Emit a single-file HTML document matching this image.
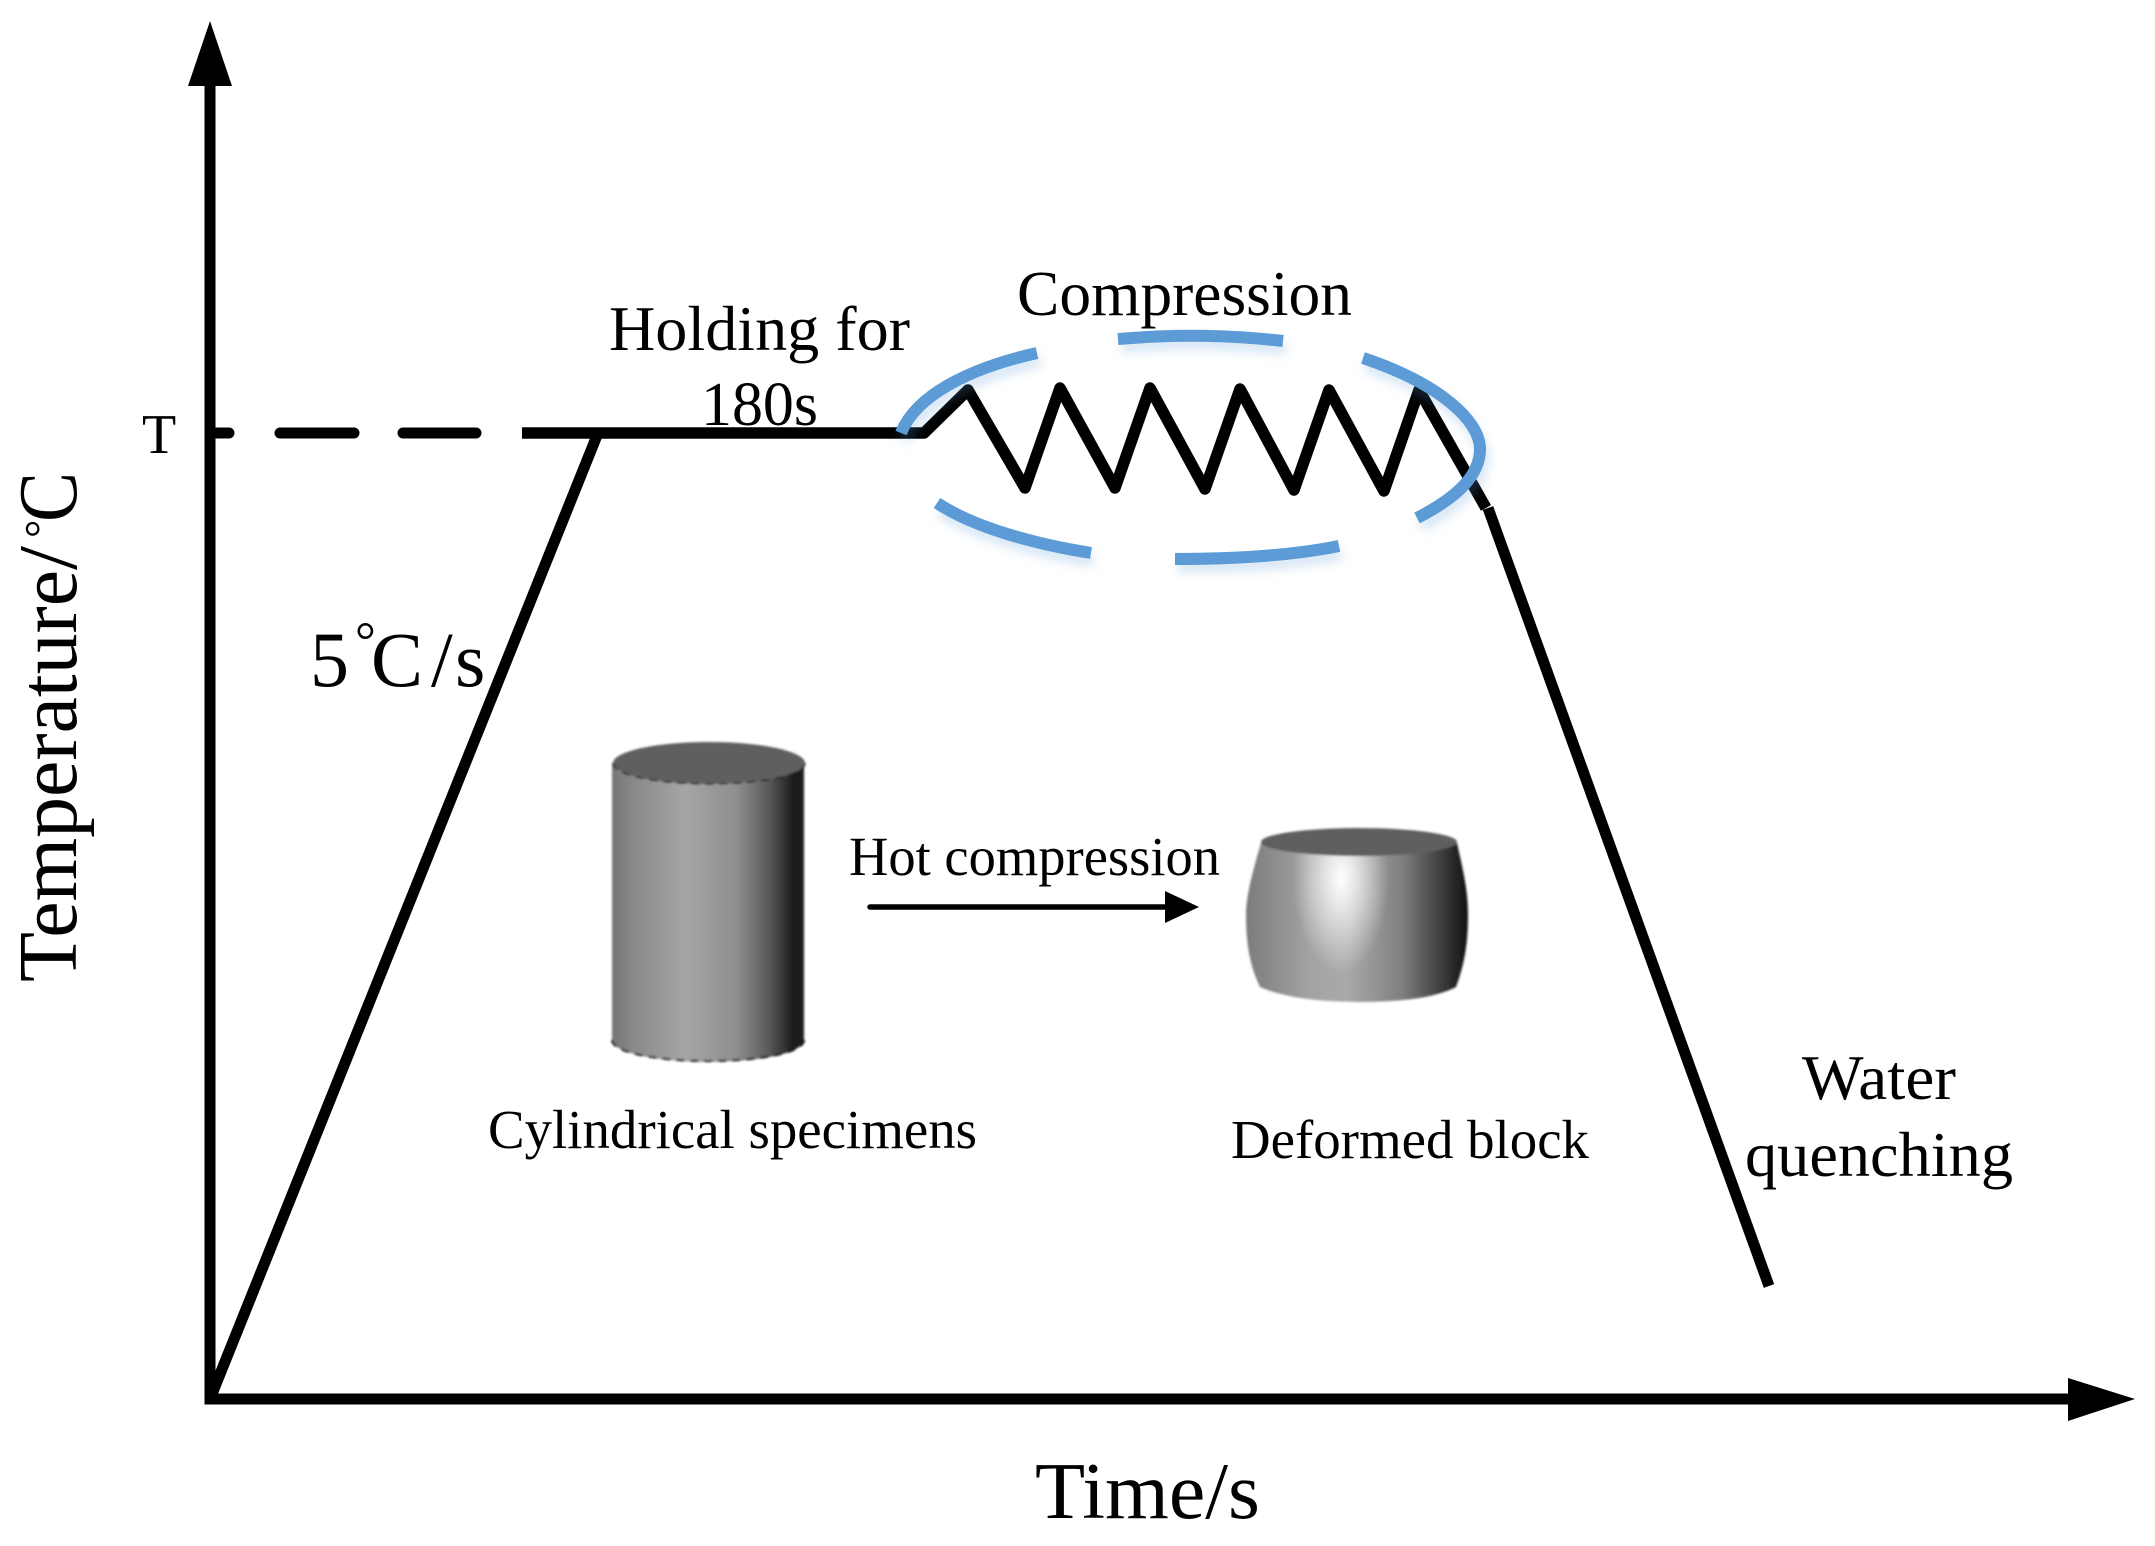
<!DOCTYPE html>
<html><head><meta charset="utf-8"><style>html,body{margin:0;padding:0;background:#fff}svg{display:block}text{font-family:"Liberation Serif","Noto Serif CJK SC",serif;fill:#000}</style></head>
<body>
<svg width="2155" height="1546" viewBox="0 0 2155 1546" xmlns="http://www.w3.org/2000/svg">
<defs>
<linearGradient id="cyl" x1="0" x2="1" y1="0" y2="0">
<stop offset="0" stop-color="#757575"/><stop offset=".12" stop-color="#8a8a8a"/><stop offset=".38" stop-color="#a6a6a6"/><stop offset=".65" stop-color="#8e8e8e"/><stop offset=".82" stop-color="#585858"/><stop offset=".95" stop-color="#1a1a1a"/><stop offset="1" stop-color="#222"/>
</linearGradient>
<linearGradient id="bar" x1="0" x2="1" y1="0" y2="0">
<stop offset="0" stop-color="#7c7c7c"/><stop offset=".28" stop-color="#a2a2a2"/><stop offset=".45" stop-color="#aaa"/><stop offset=".7" stop-color="#808080"/><stop offset=".9" stop-color="#363636"/><stop offset="1" stop-color="#111"/>
</linearGradient>
<radialGradient id="hl" cx="1341" cy="878" r="1" gradientUnits="userSpaceOnUse" gradientTransform="translate(1341 878) scale(48 95) translate(-1341 -878)">
<stop offset="0" stop-color="#fff"/><stop offset=".3" stop-color="#fff" stop-opacity=".72"/><stop offset="1" stop-color="#fff" stop-opacity="0"/>
</radialGradient>
<filter id="sh" x="-10%" y="-30%" width="120%" height="170%"><feDropShadow dx="3" dy="8" stdDeviation="5" flood-color="#5b9bd5" flood-opacity=".25"/></filter>
<filter id="soft" x="-5%" y="-5%" width="110%" height="110%"><feGaussianBlur stdDeviation="1"/></filter>
</defs>

<!-- axes -->
<g fill="none" stroke="#000" stroke-width="11">
<path d="M210 80V1399H2075"/>
<path d="M210 1399L598 433"/>
<path d="M1488 508L1769 1286"/>
</g>
<polygon points="210,21 188,86 232,86" fill="#000"/>
<polygon points="2135,1399 2068,1378 2068,1421" fill="#000"/>

<!-- dashes -->
<g stroke="#000" stroke-width="11" stroke-linecap="round" fill="none">
<path d="M212 433H229M280 433H354M403 433H476"/>
</g>
<path d="M522 433H924L968 390L1025 488L1060 388L1115 488L1150 388L1205 489L1240 389L1294 490L1329 390L1384 491L1419 390L1486 508" fill="none" stroke="#000" stroke-width="11.5" stroke-linejoin="round"/>

<!-- blue ellipse arcs -->
<g fill="none" stroke="#5b9bd5" stroke-width="12" filter="url(#sh)">
<path d="M901 433C916 395 970 368 1037 353"/>
<path d="M1118 339C1180 334 1230 335 1283 341"/>
<path d="M1363 358C1438 383 1480 420 1480 449C1480 475 1458 497 1417 518"/>
<path d="M1339 546C1290 556 1230 559 1175 559"/>
<path d="M1091 553C1035 544 975 528 937 503"/>
</g>

<!-- cylinder -->
<g filter="url(#soft)">
<path d="M612 763V1040C612 1052 655 1062 709 1062C763 1062 804 1052 804 1040V763Z" fill="url(#cyl)"/>
<ellipse cx="709" cy="763" rx="96" ry="21" fill="#5f5f5f"/>
<path d="M612 1040C612 1052 655 1061 709 1061C763 1061 804 1052 804 1040" fill="none" stroke="#111" stroke-width="2" stroke-dasharray="8 6"/>
<path d="M613 763C613 775 655 784 709 784C763 784 805 775 805 763" fill="none" stroke="#222" stroke-width="1.5" stroke-dasharray="8 6"/>
</g>

<!-- barrel -->
<g filter="url(#soft)">
<path d="M1261 843C1250 880 1246 900 1246 915C1246 950 1252 970 1260 987C1285 998 1320 1002 1360 1002C1400 1002 1435 998 1456 987C1464 965 1468 945 1468 915C1468 890 1463 870 1457 843Z" fill="url(#bar)"/>
<path d="M1261 843C1250 880 1246 900 1246 915C1246 950 1252 970 1260 987C1285 998 1320 1002 1360 1002C1400 1002 1435 998 1456 987C1464 965 1468 945 1468 915C1468 890 1463 870 1457 843Z" fill="url(#hl)"/>
<ellipse cx="1359" cy="842" rx="98" ry="14" fill="#5f5f5f"/>
</g>

<!-- small arrow -->
<path d="M870 907H1170" stroke="#000" stroke-width="5.5" stroke-linecap="round"/>
<polygon points="1199,907 1165,891 1165,923" fill="#000"/>

<!-- labels -->
<text x="142" y="453" font-size="56">T</text>
<g transform="translate(76 982) rotate(-90)">
<text x="0" y="0" font-size="84" textLength="412" lengthAdjust="spacingAndGlyphs">Temperature</text>
<text x="412" y="0" font-size="84" textLength="24" lengthAdjust="spacingAndGlyphs">/</text>
<text x="444" y="-20" font-size="46">°</text>
<text x="460" y="0" font-size="84" textLength="50" lengthAdjust="spacingAndGlyphs">C</text>
</g>
<text y="686" font-size="78"><tspan x="310">5</tspan><tspan x="355" font-size="52" dy="-28">°</tspan><tspan x="371" dy="28">C</tspan><tspan x="431">/</tspan><tspan x="455">s</tspan></text>
<text x="609" y="350" font-size="64" textLength="301" lengthAdjust="spacingAndGlyphs">Holding for</text>
<text x="701" y="425" font-size="62" textLength="117" lengthAdjust="spacingAndGlyphs">180s</text>
<text x="1017" y="315" font-size="63" textLength="335" lengthAdjust="spacingAndGlyphs">Compression</text>
<text x="849" y="875" font-size="55" textLength="371" lengthAdjust="spacingAndGlyphs">Hot compression</text>
<text x="488" y="1148" font-size="55" textLength="489" lengthAdjust="spacingAndGlyphs">Cylindrical specimens</text>
<text x="1231" y="1158" font-size="55" textLength="358" lengthAdjust="spacingAndGlyphs">Deformed block</text>
<text x="1802" y="1099" font-size="64" textLength="154" lengthAdjust="spacingAndGlyphs">Water</text>
<text x="1745" y="1176" font-size="64" textLength="268" lengthAdjust="spacingAndGlyphs">quenching</text>
<text x="1035" y="1518" font-size="81" textLength="225" lengthAdjust="spacingAndGlyphs">Time/s</text>
</svg>
</body></html>
